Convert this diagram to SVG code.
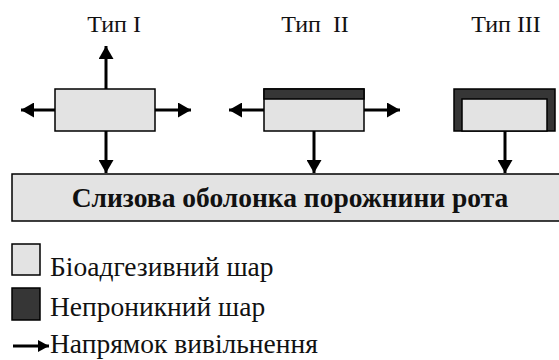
<svg xmlns="http://www.w3.org/2000/svg" width="559" height="360" viewBox="0 0 559 360">
<defs>
<style>
.lt{fill:#e3e3e3;stroke:#000;stroke-width:1.5}
.dk{fill:#363636;stroke:#000;stroke-width:1.5}
.ar{stroke:#000;stroke-width:3;fill:none;marker-end:url(#ah)}
.lbl{font-family:"Liberation Serif","DejaVu Serif",serif;font-size:24px;fill:#111;text-anchor:middle}
.leg{font-family:"Liberation Serif","DejaVu Serif",serif;font-size:27.5px;fill:#111;text-anchor:start}
.main{font-family:"Liberation Serif","DejaVu Serif",serif;font-size:27.5px;font-weight:bold;fill:#111;text-anchor:middle}
</style>
<marker id="ah" markerUnits="userSpaceOnUse" markerWidth="14" markerHeight="15" refX="13" refY="7.5" orient="auto">
<path d="M0,0 L13,7.5 L0,15 z" fill="#000"/>
</marker>
<marker id="ahs" markerUnits="userSpaceOnUse" markerWidth="12" markerHeight="12" refX="11" refY="6" orient="auto">
<path d="M0,0 L11,6 L0,12 z" fill="#000"/>
</marker>
</defs>
<rect width="559" height="360" fill="#fff"/>
<g id="connectors">
<line class="ar" x1="106" y1="89" x2="106" y2="46"/>
<line class="ar" x1="55" y1="110" x2="21" y2="110"/>
<line class="ar" x1="155" y1="110" x2="191" y2="110"/>
<line class="ar" x1="106" y1="131" x2="106" y2="173"/>
<line class="ar" x1="264" y1="110" x2="229" y2="110"/>
<line class="ar" x1="364" y1="110" x2="400" y2="110"/>
<line class="ar" x1="314" y1="131" x2="314" y2="173"/>
<line class="ar" x1="505" y1="131" x2="505" y2="173"/>
</g>
<g id="type1">
<text class="lbl" x="114" y="32">Тип I</text>
<rect class="lt" x="55" y="89" width="100" height="42"/>
</g>
<g id="type2">
<text class="lbl" x="315" y="32" xml:space="preserve">Тип  II</text>
<rect class="lt" x="264" y="89" width="100" height="42"/>
<rect class="dk" x="264" y="89" width="100" height="10"/>
</g>
<g id="type3">
<text class="lbl" x="506" y="32">Тип III</text>
<rect class="dk" x="454" y="89" width="101" height="42"/>
<rect class="lt" x="462" y="99" width="85" height="32"/>
</g>
<g id="mucosa">
<rect class="lt" x="12" y="174" width="560" height="47"/>
<text class="main" x="290" y="207">Слизова оболонка порожнини рота</text>
</g>
<g id="legend">
<rect class="lt" x="12" y="244" width="28" height="31"/>
<text class="leg" x="50" y="276" style="font-family:'Liberation Serif',serif">Біоадгезивний шар</text>
<rect class="dk" x="12" y="288" width="28" height="32"/>
<text class="leg" x="50" y="316" style="font-family:'Liberation Serif',serif">Непроникний шар</text>
<line x1="13" y1="346" x2="49" y2="346" stroke="#000" stroke-width="3" marker-end="url(#ahs)"/>
<text class="leg" x="50" y="353" style="font-family:'Liberation Serif',serif">Напрямок вивільнення</text>
</g>
</svg>
